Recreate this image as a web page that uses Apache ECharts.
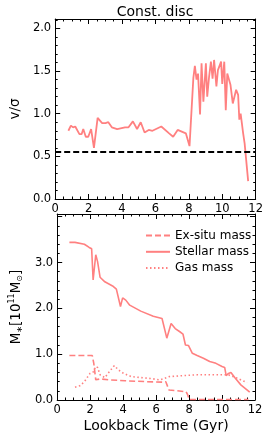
<!DOCTYPE html>
<html><head><meta charset="utf-8">
<script src="https://cdn.jsdelivr.net/npm/echarts@6/dist/echarts.min.js"></script>
<style>html,body{margin:0;padding:0;background:#fff}#c{width:266px;height:435px}</style>
</head><body><div id="c"></div>
<script>
// v/sigma
const vsT = [0.79,0.94,1.07,1.2,1.45,1.58,1.68,1.83,1.98,2.15,2.32,2.54,2.81,3.01,3.18,3.39,3.71,4.18,4.39,4.65,4.9,5.12,5.35,5.6,5.82,6.35,6.82,7.06,7.33,7.82,8.04,8.27,8.36,8.46,8.55,8.67,8.76,8.87,9.02,9.1,9.21,9.32,9.42,9.51,9.65,9.74,9.83,9.93,10.0,10.12,10.21,10.3,10.49,10.63,10.74,10.83,10.95,11.02,11.1,11.25,11.34,11.44,11.55];
const vsV = [0.80,0.86,0.84,0.85,0.76,0.76,0.82,0.73,0.73,0.82,0.60,0.95,0.89,0.89,0.90,0.84,0.82,0.84,0.84,0.91,0.82,0.90,0.78,0.81,0.80,0.85,0.77,0.73,0.81,0.77,0.62,1.42,1.56,1.40,1.47,0.99,1.59,1.14,1.59,1.20,1.43,1.61,1.41,1.63,1.32,1.51,1.51,1.61,1.35,1.61,1.04,1.47,1.34,1.12,1.14,1.28,1.22,0.93,1.00,0.77,0.65,0.65,0.21];
const threshold = 0.55;
// masses
const stT = [0.74,1.08,1.65,1.94,2.09,2.18,2.34,2.45,2.6,2.89,3.36,3.59,3.84,3.97,4.16,4.4,5.07,5.83,6.36,6.65,6.91,7.16,7.44,7.63,7.78,7.96,8.2,8.49,8.87,9.25,9.63,10.0,10.16,10.25,10.39,10.54,10.77,11.14,11.68];
const stV = [3.44,3.44,3.40,3.33,3.30,2.62,3.17,3.02,2.68,2.58,2.49,2.42,2.04,2.23,2.18,2.07,1.94,1.83,1.78,1.35,1.67,1.56,1.49,1.44,1.20,1.19,1.02,0.97,0.91,0.84,0.80,0.73,0.71,0.53,0.58,0.60,0.49,0.33,0.17];
const exT = [0.74,2.13,2.22,2.34,2.6,3.17,4.12,5.45,6.4,6.59,6.78,6.87,7.82,7.92,8.01,8.87,11.6];
const exV = [0.97,0.97,0.80,0.44,0.46,0.44,0.42,0.40,0.39,0.40,0.22,0.18,0.18,0.11,0.01,0.01,0.01];
const gasT = [1.08,1.37,1.65,1.99,2.22,2.32,2.45,2.6,2.89,3.17,3.46,3.74,4.03,4.5,5.07,5.64,6.21,6.49,6.78,7.54,8.49,9.63,10.39,10.95,11.52];
const gasV = [0.28,0.31,0.40,0.58,0.62,0.73,0.71,0.55,0.49,0.62,0.75,0.65,0.58,0.51,0.49,0.47,0.44,0.47,0.51,0.53,0.55,0.55,0.55,0.47,0.38];
const xTicks = [0,2,4,6,8,10,12];
const vsTicks = [0,0.5,1,1.5,2];
const massTicks = [0,1,2,3];

const zip = (a,b)=>a.map((v,i)=>[v,b[i]]);
const C = '#ff8080';
const F = 'DejaVu Sans';
const near = (list,v)=>list.some(t=>Math.abs(t-v)<1e-6);
function xa(grid, show, pos){
  return {type:'value', gridIndex:grid, position:pos, min:0, max:12, interval:2,
    axisLine:{show:true,onZero:false,lineStyle:{color:'#000',width:1}},
    axisTick:{show:true,inside:true,length:5,lineStyle:{color:'#000',width:1}},
    minorTick:{show:true,splitNumber:4,length:2.5,lineStyle:{color:'#000',width:1}},
    axisLabel:{show:show,color:'#000',fontFamily:F,fontSize:11.5,margin:4,
      formatter:v=>near(xTicks,v)?String(Math.round(v)):''},
    splitLine:{show:false}};
}
function ya(grid, max, itv, minor, show, pos, ticks, extra){
  return Object.assign({type:'value', gridIndex:grid, position:pos, min:0, max:max, interval:itv,
    axisLine:{show:true,onZero:false,lineStyle:{color:'#000',width:1}},
    axisTick:{show:true,inside:true,length:5,lineStyle:{color:'#000',width:1}},
    minorTick:{show:true,splitNumber:minor,length:2.5,lineStyle:{color:'#000',width:1}},
    axisLabel:{show:show,color:'#000',fontFamily:F,fontSize:11.5,margin:4,showMaxLabel:false,
      formatter:v=>(ticks && near(ticks,v))?v.toFixed(1):''},
    splitLine:{show:false}}, extra||{});
}
const chart = echarts.init(document.getElementById('c'),null,{renderer:'canvas'});
chart.setOption({
  animation:false,
  backgroundColor:'#fff',
  title:{text:'Const. disc',left:150,top:0,textAlign:'center',
    textStyle:{fontFamily:F,fontSize:14,fontWeight:'normal',color:'#000'}},
  grid:[{left:44,top:19,width:213,height:180},{left:44,top:214,width:211,height:186}],
  legend:{show:true,data:['Ex-situ mass','Stellar mass','Gas mass'],orient:'vertical',left:145,top:229.5,
    padding:0,itemWidth:24,itemHeight:10,itemGap:4.3,
    itemStyle:{opacity:0},
    textStyle:{fontFamily:F,fontSize:12,color:'#000'}},
  xAxis:[xa(0,true,'bottom'),xa(0,false,'top'),
    Object.assign(xa(1,true,'bottom'),{name:'Lookback Time (Gyr)',nameLocation:'middle',nameGap:19,
      nameTextStyle:{fontFamily:F,fontSize:14,color:'#000'}}),
    xa(1,false,'top')],
  yAxis:[ya(0,2.11,0.5,5,true,'left',vsTicks,{name:'v/σ',nameLocation:'middle',nameGap:29,nameRotate:90,
      nameTextStyle:{fontFamily:F,fontSize:13.5,color:'#000'}}),
    ya(0,2.11,0.5,5,false,'right',null),
    ya(1,4.06,1,5,true,'left',massTicks,{name:'{a|M}{s|∗}{a|[10}{p|11}{a|M}{s|⊙}{a|]}',nameLocation:'middle',nameGap:28,nameRotate:90,
      nameTextStyle:{fontFamily:F,fontSize:13.5,color:'#000',rich:{
        a:{fontFamily:F,fontSize:13.5,color:'#000',lineHeight:16},
        s:{fontFamily:F,fontSize:8,color:'#000',lineHeight:10,verticalAlign:'bottom'},
        p:{fontFamily:F,fontSize:8,color:'#000',lineHeight:10,verticalAlign:'top'}}}}),
    ya(1,4.06,1,5,false,'right',null)],
  series:[
    {type:'line',name:'vs',xAxisIndex:0,yAxisIndex:0,data:zip(vsT,vsV),symbol:'none',
      lineStyle:{color:C,width:1.8},itemStyle:{color:C},
      markLine:{silent:true,symbol:'none',label:{show:false},
        lineStyle:{color:'#000',type:[6,3],width:1.8},data:[{yAxis:threshold}]}},
    {type:'line',name:'Ex-situ mass',xAxisIndex:2,yAxisIndex:2,data:zip(exT,exV),symbol:'none',
      lineStyle:{color:C,width:1.6,type:[6,3]},itemStyle:{color:C}},
    {type:'line',name:'Stellar mass',xAxisIndex:2,yAxisIndex:2,data:zip(stT,stV),symbol:'none',
      lineStyle:{color:C,width:1.6},itemStyle:{color:C}},
    {type:'line',name:'Gas mass',xAxisIndex:2,yAxisIndex:2,data:zip(gasT,gasV),symbol:'none',
      lineStyle:{color:C,width:1.6,type:[1.5,2.5]},itemStyle:{color:C}}
  ]
});
</script></body></html>
